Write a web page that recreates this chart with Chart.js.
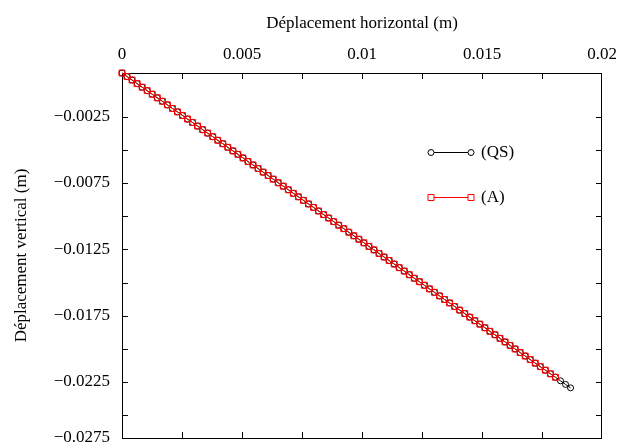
<!DOCTYPE html>
<html>
<head>
<meta charset="utf-8">
<script src="https://cdn.jsdelivr.net/npm/chart.js@4.4.1/dist/chart.umd.min.js"></script>
<style>
  html, body { margin: 0; padding: 0; background: #fff; overflow: hidden; }
  canvas { display: block; }
</style>
</head>
<body>
<canvas id="myChart" width="619" height="445"></canvas>
<script>
// (QS) quasi-static path
var qsX = [
  0, 0.00021, 0.00042, 0.00063, 0.00084, 0.00105, 0.00126, 0.00147, 0.00168, 0.00189,
  0.0021, 0.00231, 0.00252, 0.00273, 0.00294, 0.00315, 0.00336, 0.00357, 0.00378, 0.00399,
  0.0042, 0.00441, 0.00462, 0.00483, 0.00504, 0.00525, 0.00546, 0.00567, 0.00588, 0.00609,
  0.0063, 0.00651, 0.00672, 0.00693, 0.00714, 0.00735, 0.00756, 0.00777, 0.00798, 0.00819,
  0.0084, 0.00861, 0.00882, 0.00903, 0.00924, 0.00945, 0.00966, 0.00987, 0.01008, 0.01029,
  0.0105, 0.01071, 0.01092, 0.01113, 0.01134, 0.01155, 0.01176, 0.01197, 0.01218, 0.01239,
  0.0126, 0.01281, 0.01302, 0.01323, 0.01344, 0.01365, 0.01386, 0.01407, 0.01428, 0.01449,
  0.0147, 0.01491, 0.01512, 0.01533, 0.01554, 0.01575, 0.01596, 0.01617, 0.01638, 0.01659,
  0.0168, 0.01701, 0.01722, 0.01743, 0.01764, 0.01785, 0.01806, 0.01827, 0.01848, 0.01869
];
var qsY = [
  0.00079, 0.00052, 0.00026, -0.00001, -0.00028, -0.00054, -0.00081, -0.00108, -0.00134, -0.00161,
  -0.00188, -0.00214, -0.00241, -0.00268, -0.00294, -0.00321, -0.00348, -0.00374, -0.00401, -0.00428,
  -0.00454, -0.00481, -0.00508, -0.00534, -0.00561, -0.00588, -0.00614, -0.00641, -0.00668, -0.00694,
  -0.00721, -0.00748, -0.00774, -0.00801, -0.00828, -0.00854, -0.00881, -0.00908, -0.00934, -0.00961,
  -0.00988, -0.01014, -0.01041, -0.01068, -0.01094, -0.01121, -0.01148, -0.01174, -0.01201, -0.01228,
  -0.01254, -0.01281, -0.01308, -0.01334, -0.01361, -0.01388, -0.01414, -0.01441, -0.01468, -0.01494,
  -0.01521, -0.01548, -0.01574, -0.01601, -0.01628, -0.01654, -0.01681, -0.01708, -0.01734, -0.01761,
  -0.01788, -0.01814, -0.01841, -0.01868, -0.01894, -0.01921, -0.01948, -0.01974, -0.02001, -0.02028,
  -0.02054, -0.02081, -0.02108, -0.02134, -0.02161, -0.02188, -0.02214, -0.02241, -0.02268, -0.02294
];
// (A) path, stops a little earlier
var aX = [
  0, 0.00021, 0.00042, 0.00063, 0.00084, 0.00105, 0.00126, 0.00147, 0.00168, 0.00189,
  0.0021, 0.00231, 0.00252, 0.00273, 0.00294, 0.00315, 0.00336, 0.00357, 0.00378, 0.00399,
  0.0042, 0.00441, 0.00462, 0.00483, 0.00504, 0.00525, 0.00546, 0.00567, 0.00588, 0.00609,
  0.0063, 0.00651, 0.00672, 0.00693, 0.00714, 0.00735, 0.00756, 0.00777, 0.00798, 0.00819,
  0.0084, 0.00861, 0.00882, 0.00903, 0.00924, 0.00945, 0.00966, 0.00987, 0.01008, 0.01029,
  0.0105, 0.01071, 0.01092, 0.01113, 0.01134, 0.01155, 0.01176, 0.01197, 0.01218, 0.01239,
  0.0126, 0.01281, 0.01302, 0.01323, 0.01344, 0.01365, 0.01386, 0.01407, 0.01428, 0.01449,
  0.0147, 0.01491, 0.01512, 0.01533, 0.01554, 0.01575, 0.01596, 0.01617, 0.01638, 0.01659,
  0.0168, 0.01701, 0.01722, 0.01743, 0.01764, 0.01785, 0.01806
];
var aY = [
  0.00079, 0.00052, 0.00026, -0.00001, -0.00028, -0.00054, -0.00081, -0.00108, -0.00134, -0.00161,
  -0.00188, -0.00214, -0.00241, -0.00268, -0.00294, -0.00321, -0.00348, -0.00374, -0.00401, -0.00428,
  -0.00454, -0.00481, -0.00508, -0.00534, -0.00561, -0.00588, -0.00614, -0.00641, -0.00668, -0.00694,
  -0.00721, -0.00748, -0.00774, -0.00801, -0.00828, -0.00854, -0.00881, -0.00908, -0.00934, -0.00961,
  -0.00988, -0.01014, -0.01041, -0.01068, -0.01094, -0.01121, -0.01148, -0.01174, -0.01201, -0.01228,
  -0.01254, -0.01281, -0.01308, -0.01334, -0.01361, -0.01388, -0.01414, -0.01441, -0.01468, -0.01494,
  -0.01521, -0.01548, -0.01574, -0.01601, -0.01628, -0.01654, -0.01681, -0.01708, -0.01734, -0.01761,
  -0.01788, -0.01814, -0.01841, -0.01868, -0.01894, -0.01921, -0.01948, -0.01974, -0.02001, -0.02028,
  -0.02054, -0.02081, -0.02108, -0.02134, -0.02161, -0.02188, -0.02214
];

var seriesNames = ["(QS)", "(A)"];

// axes
var xMin = 0, xMax = 0.02, xStep = 0.0025, xLabelStep = 0.005;
var yMax = 0.00079, yMin = -0.02672;
var yTicks = [-0.0025, -0.005, -0.0075, -0.01, -0.0125, -0.015, -0.0175, -0.02, -0.0225, -0.025];
var yLabelValues = [-0.0025, -0.0075, -0.0125, -0.0175, -0.0225, yMin];
var yLabels = ["\u22120.0025", "\u22120.0075", "\u22120.0125", "\u22120.0175", "\u22120.0225", "\u22120.0275"];

function pairs(xs, ys) {
  return xs.map(function (x, i) { return { x: x, y: ys[i] }; });
}

var FONT = { family: "'Liberation Serif', 'DejaVu Serif', serif", size: 17 };
Chart.defaults.color = "#000";

// keep edge labels from shrinking the plot area
function noEdgePadding(s) {
  s.paddingLeft = 0; s.paddingRight = 0; s.paddingTop = 0; s.paddingBottom = 0;
}

// box with inward ticks on all four sides + legend inside the plot
var framePlugin = {
  id: "frame",
  beforeDatasetsDraw: function (chart) {
    var ctx = chart.ctx, a = chart.chartArea, x = chart.scales.x, y = chart.scales.y;
    var L = 6;
    ctx.save();
    ctx.strokeStyle = "#000";
    ctx.lineWidth = 1;
    ctx.strokeRect(a.left + 0.5, a.top + 0.5, a.right - a.left - 1, a.bottom - a.top);
    ctx.beginPath();
    x.ticks.forEach(function (t) {
      var px = Math.round(x.getPixelForValue(t.value)) + 0.5;
      if (px < a.left + 2 || px > a.right - 2) return;
      ctx.moveTo(px, a.top); ctx.lineTo(px, a.top + L);
      ctx.moveTo(px, a.bottom); ctx.lineTo(px, a.bottom - L);
    });
    yTicks.forEach(function (v) {
      var py = Math.round(y.getPixelForValue(v)) + 0.5;
      ctx.moveTo(a.left, py); ctx.lineTo(a.left + L, py);
      ctx.moveTo(a.right, py); ctx.lineTo(a.right - L, py);
    });
    ctx.stroke();
    ctx.restore();
  },
  afterDraw: function (chart) {
    var ctx = chart.ctx;
    var rows = [
      { ds: chart.data.datasets[0], y: 152.5 },
      { ds: chart.data.datasets[1], y: 197.5 }
    ];
    var x0 = 431, x1 = 471;
    ctx.save();
    rows.forEach(function (r) {
      ctx.strokeStyle = r.ds.borderColor;
      ctx.lineWidth = 1;
      ctx.beginPath();
      ctx.moveTo(x0, r.y); ctx.lineTo(x1, r.y);
      ctx.stroke();
      [x0, x1].forEach(function (px) {
        ctx.beginPath();
        if (r.ds.pointStyle === "rect") {
          ctx.rect(px - 3, r.y - 3, 6, 6);
        } else {
          ctx.arc(px, r.y, 3, 0, Math.PI * 2);
        }
        ctx.fillStyle = "#fff";
        ctx.fill();
        ctx.strokeStyle = r.ds.pointBorderColor;
        ctx.stroke();
      });
      ctx.fillStyle = "#000";
      ctx.font = FONT.size + "px " + FONT.family;
      ctx.textAlign = "left";
      ctx.textBaseline = "middle";
      ctx.fillText(r.ds.label, 481, r.y);
    });
    ctx.restore();
  }
};

var ctx1 = document.getElementById("myChart").getContext("2d");
var myChart1 = new Chart(ctx1, {
  type: "scatter",
  data: {
    datasets: [
      {
        label: seriesNames[0],
        data: pairs(qsX, qsY),
        showLine: true,
        borderColor: "#000",
        borderWidth: 1,
        pointStyle: "circle",
        pointRadius: 3,
        pointBorderWidth: 1,
        pointBorderColor: "#000",
        pointBackgroundColor: "rgba(0,0,0,0)",
        clip: false,
        order: 1
      },
      {
        label: seriesNames[1],
        data: pairs(aX, aY),
        showLine: true,
        borderColor: "#ff0000",
        borderWidth: 1,
        pointStyle: "rect",
        pointRadius: 4.2,
        pointBorderWidth: 1,
        pointBorderColor: "#ff0000",
        pointBackgroundColor: "rgba(0,0,0,0)",
        clip: false,
        order: 0
      }
    ]
  },
  options: {
    responsive: false,
    animation: false,
    layout: { padding: { left: 0, top: 0, right: 17, bottom: 7 } },
    plugins: { legend: { display: false }, tooltip: { enabled: false } },
    scales: {
      x: {
        type: "linear",
        position: "top",
        min: xMin,
        max: xMax,
        grid: { display: false, drawTicks: false },
        border: { display: false },
        afterFit: function (s) { s.height = 73; noEdgePadding(s); },
        ticks: {
          stepSize: xStep,
          autoSkip: false,
          maxRotation: 0,
          padding: 8,
          font: FONT,
          callback: function (v) {
            var k = v / xLabelStep;
            if (Math.abs(k - Math.round(k)) > 1e-6) return "";
            return String(+v.toFixed(4));
          }
        },
        title: {
          display: true,
          text: "Déplacement horizontal (m)",
          font: FONT,
          padding: { top: 13, bottom: 0 }
        }
      },
      y: {
        type: "linear",
        position: "left",
        min: yMin,
        max: yMax,
        grid: { display: false, drawTicks: false },
        border: { display: false },
        afterFit: function (s) { s.width = 122; noEdgePadding(s); },
        afterBuildTicks: function (s) {
          s.ticks = yTicks.concat([yMin]).map(function (v) { return { value: v }; });
        },
        ticks: {
          autoSkip: false,
          padding: 12,
          font: FONT,
          callback: function (v) {
            for (var i = 0; i < yLabelValues.length; i++) {
              if (Math.abs(yLabelValues[i] - v) < 1e-7) return yLabels[i];
            }
            return "";
          }
        },
        title: {
          display: true,
          text: "Déplacement vertical (m)",
          font: FONT,
          padding: { top: 11, bottom: 0 }
        }
      }
    }
  },
  plugins: [framePlugin]
});
</script>
</body>
</html>
